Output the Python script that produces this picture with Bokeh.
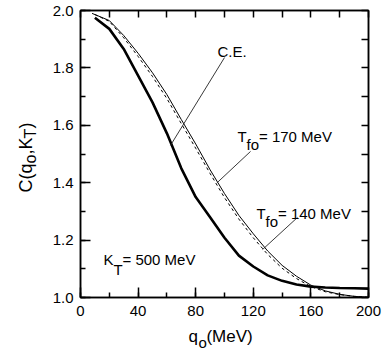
import numpy as np
from bokeh.plotting import figure
from bokeh.models import LinearAxis, SingleIntervalTicker, PrintfTickFormatter, Label, Range1d
from bokeh.embed import file_html
from bokeh.resources import INLINE

# ---- data ----
q_ce = [10, 20, 30, 40, 50, 60, 70, 80, 90, 100, 110, 120, 130, 140, 150, 160, 170, 180, 190, 200]
c_ce = [1.975, 1.936, 1.866, 1.773, 1.680, 1.572, 1.450, 1.350, 1.280, 1.208, 1.146, 1.108, 1.077,
        1.058, 1.045, 1.038, 1.035, 1.033, 1.032, 1.031]

q_170 = [8, 20, 30, 40, 50, 60, 70, 80, 90, 100, 110, 120, 130, 140, 150, 160, 170, 180, 190, 200]
c_170 = [1.990, 1.965, 1.913, 1.851, 1.783, 1.707, 1.620, 1.535, 1.445, 1.362, 1.286, 1.222, 1.162,
         1.112, 1.074, 1.043, 1.023, 1.011, 1.004, 1.001]

q_140 = [10, 20, 30, 40, 50, 60, 70, 80, 90, 100, 110, 120, 130, 140, 150, 160, 170, 180, 190, 200]
c_140 = [1.986, 1.962, 1.905, 1.840, 1.770, 1.693, 1.606, 1.520, 1.432, 1.348, 1.273, 1.208, 1.150,
         1.102, 1.066, 1.038, 1.020, 1.010, 1.004, 1.001]

x_ticks_major = 40
y_ticks_major = 0.2

# pointer lines (label -> curve)
ptr_x0 = [100.0, 118.1, 150.7]
ptr_y0 = [1.836, 1.509, 1.279]
ptr_x1 = [62.5, 95.1, 126.4]
ptr_y1 = [1.530, 1.401, 1.167]

FONT = "Liberation Sans"

p = figure(frame_width=288, frame_height=287,
           x_range=Range1d(0, 200), y_range=Range1d(1.0, 2.0),
           output_backend="svg", toolbar_location=None,
           min_border_left=80, min_border_right=24, min_border_top=10, min_border_bottom=55)
p.xgrid.visible = False
p.ygrid.visible = False
p.outline_line_color = "black"
p.outline_line_width = 1.5
p.background_fill_color = "white"
p.border_fill_color = "white"

def style_main(ax, interval):
    ax.ticker = SingleIntervalTicker(interval=interval, num_minor_ticks=2)
    ax.major_tick_in = 10
    ax.major_tick_out = 0
    ax.minor_tick_in = 5
    ax.minor_tick_out = 0
    ax.major_tick_line_width = 1.5
    ax.minor_tick_line_width = 1.5
    ax.axis_line_width = 1.5
    ax.major_tick_line_color = "black"
    ax.minor_tick_line_color = "black"
    ax.axis_line_color = "black"
    ax.major_label_text_font = FONT
    ax.major_label_text_font_size = "15px"
    ax.major_label_text_color = "black"

xa = p.xaxis[0]
style_main(xa, x_ticks_major)
xa.major_label_standoff = 8
ya = p.yaxis[0]
style_main(ya, y_ticks_major)
ya.major_label_standoff = 7
ya.formatter = PrintfTickFormatter(format="%.1f")

def side_axis(interval):
    ax = LinearAxis(ticker=SingleIntervalTicker(interval=interval, num_minor_ticks=0))
    ax.major_tick_in = 7
    ax.major_tick_out = 0
    ax.minor_tick_in = 0
    ax.minor_tick_out = 0
    ax.major_tick_line_width = 1.5
    ax.axis_line_width = 1.5
    ax.major_label_text_color = None
    ax.major_label_text_font_size = "1px"
    ax.major_label_standoff = 0
    return ax

p.add_layout(side_axis(x_ticks_major / 2), "above")
p.add_layout(side_axis(y_ticks_major / 2), "right")

# curves
p.line(q_ce, c_ce, line_color="black", line_width=2.6)
p.line(q_170, c_170, line_color="black", line_width=1.0)
p.line(q_140, c_140, line_color="black", line_width=1.0, line_dash="3 3")

# pointer lines
p.segment(ptr_x0, ptr_y0, ptr_x1, ptr_y1, line_color="#222222", line_width=0.9)

def px2q(px):
    return (px - 80.0) / 1.44

def py2c(py):
    return 2.0 - (py - 10.0) / 287.0

def lab(text, px, py, size="15px", angle=0.0, place="center"):
    l = Label(x=px2q(px), y=py2c(py), text=text, text_font=FONT,
              text_font_size=size, text_color="black", text_align="left",
              text_baseline="alphabetic", angle=angle)
    if place == "center":
        p.add_layout(l)
    else:
        p.add_layout(l, place)

# in-plot annotations
lab("C.E.", 217, 51)
lab("T", 237, 136)
lab("fo", 246, 144)
lab("= 170 MeV", 258.5, 136)
lab("T", 256, 213)
lab("fo", 265, 221)
lab("= 140 MeV", 277.5, 213)
lab("K", 103, 259)
lab("T", 113, 269)
lab("= 500 MeV", 122, 259)

# x-axis title (outside the frame, so kept in side panels)
lab("q\u2002(MeV)", 188, 336, "17px", place="below")
lab("o", 198, 342, "15px", place="right")

# y-axis title (rotated)
ang = np.pi / 2
lab("C(q\u2002,K\u2002)", 25, 192, "18px", ang, place="left")
lab("o\u2003T", 30, 163, "16px", ang, place="left")

open("out.html", "w").write(file_html(p, INLINE))
